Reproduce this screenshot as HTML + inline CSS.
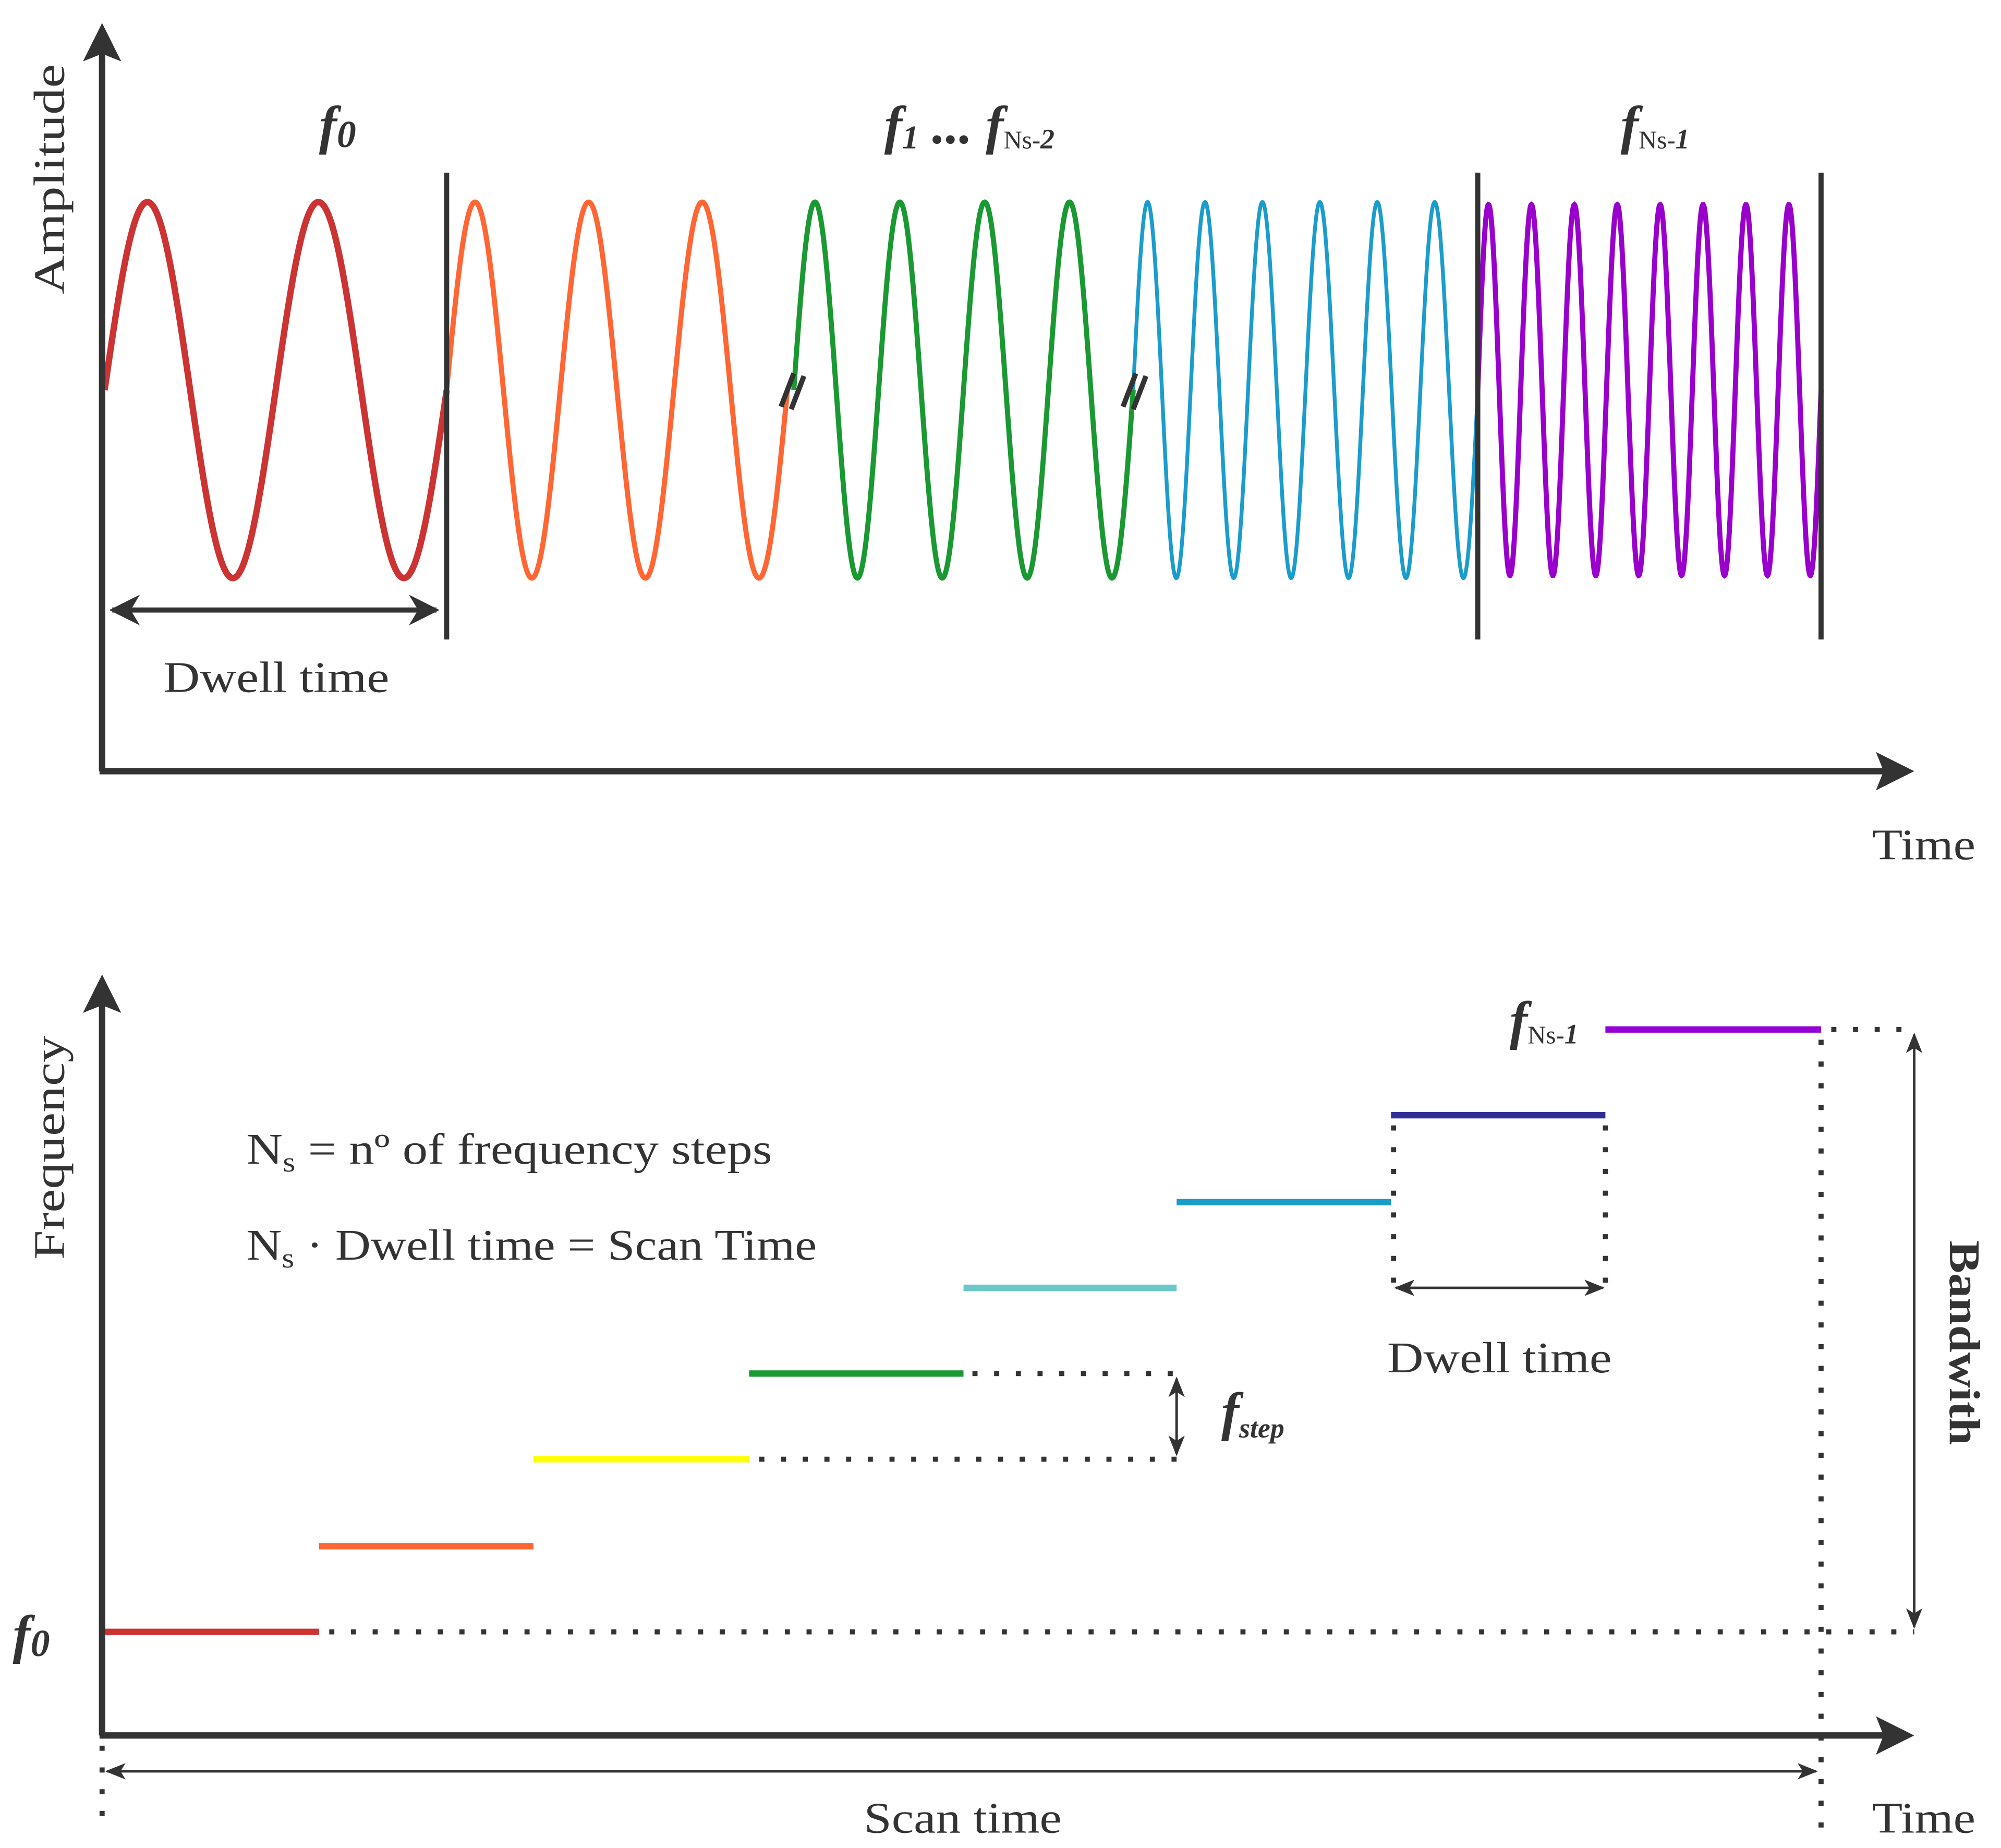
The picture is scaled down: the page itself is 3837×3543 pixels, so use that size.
<!DOCTYPE html>
<html><head><meta charset="utf-8"><style>
html,body{margin:0;padding:0;background:#fff;}
svg{display:block;}
text{font-family:"Liberation Serif",serif;fill:#333;}
.it{font-style:italic;font-weight:bold;}
</style></head><body>
<svg id="s" width="3837" height="3543" viewBox="0 0 1568 1445" preserveAspectRatio="none" xmlns="http://www.w3.org/2000/svg">
<defs>
<marker id="ah" viewBox="0 0 10 10" refX="9" refY="5" markerWidth="6" markerHeight="6" orient="auto-start-reverse"><path d="M0,0 L10,5 L0,10 L3,5 z" fill="#333"/></marker>
<marker id="ah2" viewBox="0 0 10 10" refX="9" refY="5" markerWidth="8" markerHeight="8" orient="auto-start-reverse"><path d="M0,1 L10,5 L0,9 L2.5,5 z" fill="#333"/></marker>
</defs>
<g id="waves"></g>
<g stroke="#333" stroke-width="5" fill="none">
<line x1="80" y1="603" x2="80" y2="40"/>
<line x1="78" y1="603" x2="1478" y2="603"/>
<line x1="350" y1="135" x2="350" y2="500" stroke-width="4"/>
<line x1="1158" y1="135" x2="1158" y2="500" stroke-width="4"/>
<line x1="1427" y1="135" x2="1427" y2="500" stroke-width="4"/>
</g>
<path d="M80,18 L95,48 L80,42 L65,48 z" fill="#333"/>
<path d="M1500,603 L1470,588 L1476,603 L1470,618 z" fill="#333"/>
<line x1="88" y1="477" x2="342" y2="477" stroke="#333" stroke-width="4" marker-start="url(#ah)" marker-end="url(#ah)"/>
<g stroke="#333" stroke-width="4"><line x1="612" y1="318" x2="622" y2="292"/><line x1="620" y1="320" x2="630" y2="294"/>
<line x1="880" y1="318" x2="890" y2="292"/><line x1="888" y1="320" x2="898" y2="294"/></g>
<text x="128" y="541" font-size="34" textLength="177" lengthAdjust="spacingAndGlyphs">Dwell time</text>
<text x="1467" y="672" font-size="34" textLength="81" lengthAdjust="spacingAndGlyphs">Time</text>
<text transform="translate(50,230) rotate(-90)" font-size="34" textLength="180" lengthAdjust="spacingAndGlyphs">Amplitude</text>
<text x="250" y="112" font-size="42" class="it">f<tspan font-size="30" dy="3">0</tspan></text>
<text x="693" y="112" font-size="42" class="it">f<tspan font-size="26" dy="4">1</tspan><tspan dy="-4"> ... f</tspan><tspan font-size="20" font-weight="normal" font-style="normal" dy="4">Ns-</tspan><tspan font-size="22" dy="0">2</tspan></text>
<text x="1270" y="112" font-size="42" class="it">f<tspan font-size="20" font-weight="normal" font-style="normal" dy="4">Ns-</tspan><tspan font-size="22">1</tspan></text>

<g stroke-width="5" fill="none">
<line x1="82" y1="1276" x2="250" y2="1276" stroke="#cc3333"/>
<line x1="250" y1="1209" x2="418" y2="1209" stroke="#ff6633"/>
<line x1="418" y1="1141" x2="587" y2="1141" stroke="#ffff00"/>
<line x1="587" y1="1074" x2="755" y2="1074" stroke="#1a9933"/>
<line x1="755" y1="1007" x2="922" y2="1007" stroke="#6cc8c8"/>
<line x1="922" y1="940" x2="1090" y2="940" stroke="#1a9cc8"/>
<line x1="1090" y1="872" x2="1258" y2="872" stroke="#2e3192"/>
<line x1="1258" y1="805" x2="1427" y2="805" stroke="#9400d3"/>
</g>
<g stroke="#333" stroke-width="4" stroke-dasharray="4,13" fill="none">
<line x1="258" y1="1276" x2="1500" y2="1276"/>
<line x1="595" y1="1141" x2="922" y2="1141"/>
<line x1="762" y1="1074" x2="922" y2="1074"/>
<line x1="1092" y1="880" x2="1092" y2="1005"/>
<line x1="1258" y1="880" x2="1258" y2="1005"/>
<line x1="1435" y1="805" x2="1500" y2="805"/>
<line x1="1427" y1="813" x2="1427" y2="1440"/>
<line x1="80" y1="1365" x2="80" y2="1420"/>
</g>
<g stroke="#333" stroke-width="5" fill="none">
<line x1="80" y1="1357" x2="80" y2="785"/>
<line x1="78" y1="1357" x2="1478" y2="1357"/>
</g>
<path d="M80,762 L95,792 L80,786 L65,792 z" fill="#333"/>
<path d="M1500,1357 L1470,1342 L1476,1357 L1470,1372 z" fill="#333"/>
<g stroke="#333" stroke-width="2" fill="none">
<line x1="922" y1="1078" x2="922" y2="1137" marker-start="url(#ah2)" marker-end="url(#ah2)"/>
<line x1="1094" y1="1007" x2="1256" y2="1007" marker-start="url(#ah2)" marker-end="url(#ah2)"/>
<line x1="1500" y1="809" x2="1500" y2="1272" marker-start="url(#ah2)" marker-end="url(#ah2)"/>
<line x1="84" y1="1385" x2="1423" y2="1385" marker-start="url(#ah2)" marker-end="url(#ah2)"/>
</g>
<text x="1087" y="1073" font-size="34" textLength="176" lengthAdjust="spacingAndGlyphs">Dwell time</text>
<text x="677" y="1433" font-size="34" textLength="155" lengthAdjust="spacingAndGlyphs">Scan time</text>
<text x="1467" y="1433" font-size="34" textLength="81" lengthAdjust="spacingAndGlyphs">Time</text>
<text transform="translate(50,985) rotate(-90)" font-size="34" textLength="175" lengthAdjust="spacingAndGlyphs">Frequency</text>
<text transform="translate(1528,970) rotate(90)" font-size="34" font-weight="bold" textLength="160" lengthAdjust="spacingAndGlyphs">Bandwith</text>
<text x="193" y="910" font-size="34" textLength="412" lengthAdjust="spacingAndGlyphs">N<tspan font-size="22" dy="6">s</tspan><tspan dy="-6"> = nº of frequency steps</tspan></text>
<text x="193" y="985" font-size="34" textLength="447" lengthAdjust="spacingAndGlyphs">N<tspan font-size="22" dy="6">s</tspan><tspan dy="-6"> · Dwell time = Scan Time</tspan></text>
<text x="10" y="1292" font-size="42" class="it">f<tspan font-size="30" dy="3">0</tspan></text>
<text x="957" y="1118" font-size="42" class="it">f<tspan font-size="22" dy="6">step</tspan></text>
<text x="1183" y="812" font-size="42" class="it">f<tspan font-size="20" font-weight="normal" font-style="normal" dy="4">Ns-</tspan><tspan font-size="22">1</tspan></text>
</svg>
<script>
(function(){
var g=document.getElementById('waves');
var segs=[[82,350,2,'#cc3333',5,147],[350,617,3,'#ff6633',4,147],[622,888,4,'#1a9933',4,147],[888,1158,6,'#1a9ccc',3,147],[1158,1427,8,'#9900cc',4,145]];
segs.forEach(function(s){
var x0=s[0],x1=s[1],n=s[2],d='';
var N=Math.round((x1-x0)*3);
for(var i=0;i<=N;i++){var x=x0+(x1-x0)*i/N;var y=305-s[5]*Math.sin(2*Math.PI*n*(x-x0)/(x1-x0));d+=(i?'L':'M')+x.toFixed(2)+','+y.toFixed(2);}
var p=document.createElementNS('http://www.w3.org/2000/svg','path');
p.setAttribute('d',d);p.setAttribute('stroke',s[3]);p.setAttribute('stroke-width',s[4]);p.setAttribute('fill','none');
g.appendChild(p);});
})();
</script>
</body></html>
